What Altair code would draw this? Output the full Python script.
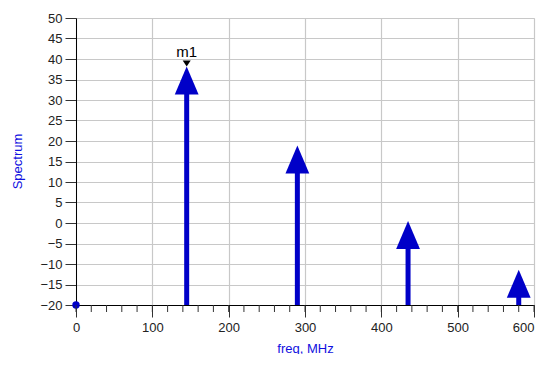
import altair as alt
import pandas as pd

freqs = [145, 290, 435, 580]
levels = [38.2, 18.9, 0.5, -11.4]
dc_freq = [0]
dc_level = [-20]
marker_freq = [145]
marker_level = [38.2]
marker_label = ["m1"]
x_major = [0, 100, 200, 300, 400, 500, 600]
x_minor = list(range(0, 601, 20))
y_ticks = list(range(-20, 51, 5))

BLUE = "#0000c8"
FONT = "Liberation Sans"

df = pd.DataFrame({"freq": freqs, "level": levels, "base": [-20] * len(freqs)})
dc = pd.DataFrame({"freq": dc_freq, "level": dc_level})
mk = pd.DataFrame({"freq": marker_freq, "level": marker_level, "label": marker_label})
mn = pd.DataFrame({"freq": x_minor})

xscale = alt.Scale(domain=[0, 600], nice=False, zero=False)
yscale = alt.Scale(domain=[-20, 50], nice=False, zero=False)

xaxis = alt.Axis(values=x_major, title="freq, MHz", titleColor="#1010e0", titleFont=FONT,
                 titleFontSize=13, titleFontWeight="normal", titleY=43, titleBaseline="middle",
                 labelFont=FONT, labelFontSize=13, labelColor="#222", labelPadding=4,
                 labelAlign=alt.expr("datum.value >= 600 ? 'right' : 'center'"),
                 tickSize=12, tickColor="#333", domainColor="#000", grid=True,
                 gridColor="#c8c8c8", gridWidth=1.2, labelFlush=False, labelOverlap=False)
yaxis = alt.Axis(values=y_ticks, title="Spectrum", titleColor="#1010e0", titleFont=FONT,
                 titleFontSize=13, titleFontWeight="normal", titleX=-59, titleY=143,
                 titleAngle=-90, titleBaseline="middle",
                 labelFont=FONT, labelFontSize=13, labelColor="#222", labelPadding=3,
                 tickSize=11, tickColor="#333", domainColor="#000", grid=True,
                 gridColor="#c8c8c8", gridWidth=1.2, labelFlush=False, labelOverlap=False)

stems = alt.Chart(df).mark_rule(color=BLUE, strokeWidth=5, yOffset=14).encode(
    x=alt.X("freq:Q", scale=xscale, axis=xaxis),
    y=alt.Y("level:Q", scale=yscale, axis=yaxis),
    y2="base:Q",
)

heads = alt.Chart(df).mark_point(
    shape="M0,0L-0.85,2L0.85,2Z", filled=True, color=BLUE, opacity=1, size=784, strokeWidth=0
).encode(
    x=alt.X("freq:Q", scale=xscale, axis=xaxis),
    y=alt.Y("level:Q", scale=yscale, axis=yaxis),
)

dcpt = alt.Chart(dc).mark_point(shape="circle", filled=True, color=BLUE, opacity=1, size=55).encode(
    x=alt.X("freq:Q", scale=xscale, axis=xaxis),
    y=alt.Y("level:Q", scale=yscale, axis=yaxis),
)

mtri = alt.Chart(mk).mark_point(
    shape="M0,0L-1,-1.5L1,-1.5Z", filled=True, color="#000", opacity=1, size=64, strokeWidth=0
).encode(
    x=alt.X("freq:Q", scale=xscale, axis=xaxis),
    y=alt.Y("level:Q", scale=yscale, axis=yaxis),
)

mtext = alt.Chart(mk).mark_text(font=FONT, fontSize=15, color="#000", baseline="bottom", dy=-6).encode(
    x=alt.X("freq:Q", scale=xscale, axis=xaxis),
    y=alt.Y("level:Q", scale=yscale, axis=yaxis),
    text="label:N",
)

minor = alt.Chart(mn).mark_rule(color="#333", strokeWidth=1).encode(
    x=alt.X("freq:Q", scale=xscale, axis=xaxis),
    y=alt.value(287),
    y2=alt.value(294),
)

chart = alt.layer(stems, heads, dcpt, mtri, mtext, minor).properties(
    width=458, height=287,
    autosize=alt.AutoSizeParams(type="none"),
    padding={"left": 68, "top": 10, "right": 3, "bottom": 49},
).configure_view(stroke="#000", strokeWidth=1.2).configure(background="white")

chart.save("out.html", embed_options={"renderer": "svg", "actions": False})
